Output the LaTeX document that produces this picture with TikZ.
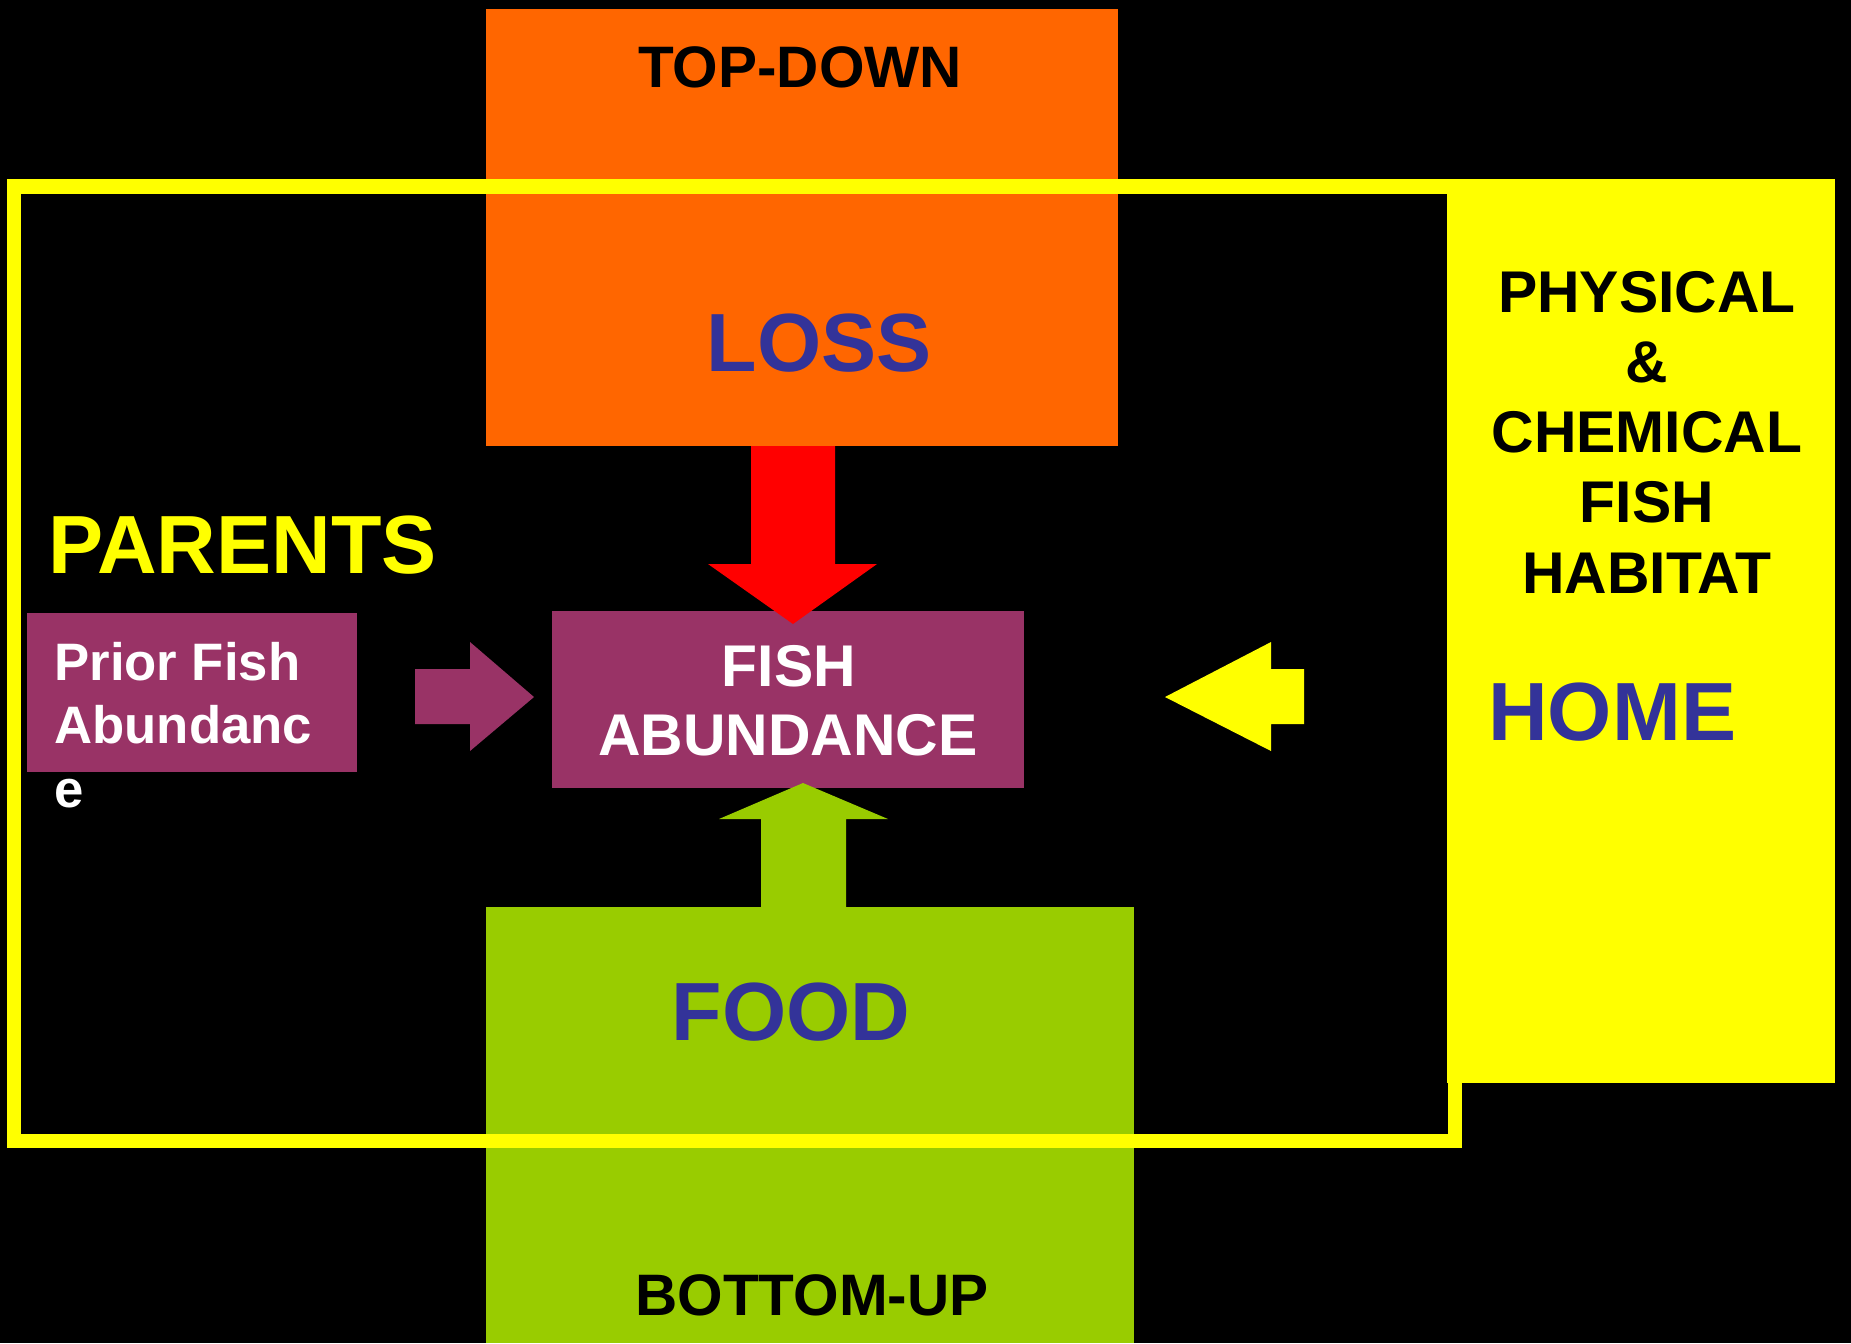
\documentclass[tikz,border=0pt]{standalone}
\usepackage{fontspec}
\setmainfont{Liberation Sans}
\definecolor{lossor}{HTML}{FF6600}
\definecolor{foodgr}{HTML}{99CC00}
\definecolor{fishpu}{HTML}{993366}
\definecolor{homeye}{HTML}{FFFF00}
\definecolor{labbl}{HTML}{333399}
\begin{document}
\begin{tikzpicture}[x=0.02cm,y=-0.02cm]
\tikzset{every node/.style={inner sep=0pt,font=\bfseries},
  small/.style={font=\fontsize{33.3}{40}\selectfont\bfseries},
  big/.style={font=\fontsize{47}{56}\selectfont\bfseries,text=labbl}}
\useasboundingbox (0,0) rectangle (1851,1343);
\fill [black] (0,0) rectangle (1851,1343);
\fill [lossor] (486,9) rectangle (1118,446);
\fill [foodgr] (486,907) rectangle (1134,1343);
\fill [homeye] (1447,179) rectangle (1835,1083);
\fill [fishpu] (552,611) rectangle (1024,788);
\fill [fishpu] (27,613) rectangle (357,772);
\draw (800,87) node [small,anchor=base] (topdown) {TOP-DOWN};
\draw (819,371) node [big,anchor=base] (loss) {LOSS};
\draw (791,1040) node [big,anchor=base] (food) {FOOD};
\draw (812,1315) node [small,anchor=base] (bottomup) {BOTTOM-UP};
\draw (48,573) node [big,text=homeye,anchor=base west] (parents) {PARENTS};
\draw (1488,740) node [big,anchor=base west] (home) {HOME};
\draw (789,686) node [font=\fontsize{33.5}{40}\selectfont\bfseries,text=white,anchor=base] (fish1) {FISH};
\draw (788,755) node [font=\fontsize{33.5}{40}\selectfont\bfseries,text=white,anchor=base] (fish2) {ABUNDANCE};
\foreach \t/\y [count=\i] in {Prior Fish/680,Abundanc/743,e/807}
  \draw (54,\y) node [font=\fontsize{30}{36}\selectfont\bfseries,text=white,anchor=base west] (prior\i) {\t};
\foreach \t/\y [count=\i] in {PHYSICAL/312,\&/382,CHEMICAL/452,FISH/522,HABITAT/593}
  \draw (1647,\y) node [font=\fontsize{33.5}{40}\selectfont\bfseries,anchor=base] (hab\i) {\t};
% block arrows
\fill [red] (751,446) -- (835,446) -- (835,564) -- (877,564) -- (793,624) -- (708,564) -- (751,564) -- cycle;
\fill [foodgr] (761,907) -- (846,907) -- (846,819) -- (888,819) -- (803,783) -- (719,819) -- (761,819) -- cycle;
\fill [fishpu] (415,669) -- (470,669) -- (470,642) -- (534,697) -- (470,751) -- (470,724) -- (415,724) -- cycle;
\fill [homeye] (1304,669) -- (1271,669) -- (1271,642) -- (1165,697) -- (1271,751) -- (1271,724) -- (1304,724) -- cycle;
\draw [homeye,line width=0.29cm] (13.75,186.5) rectangle (1454.75,1141);
\end{tikzpicture}
\end{document}
